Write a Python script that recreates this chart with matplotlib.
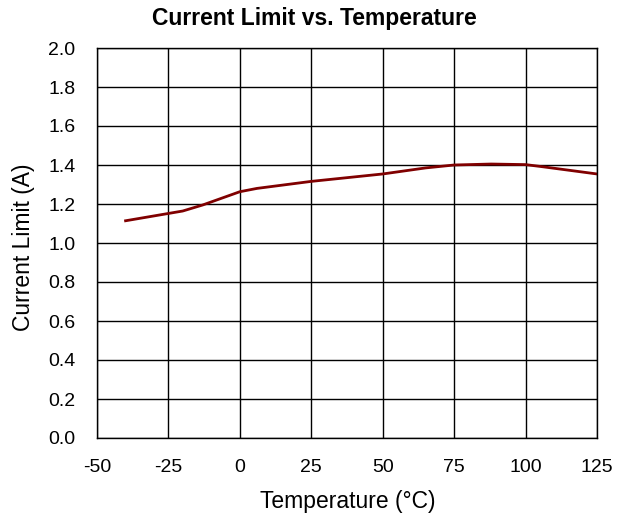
import matplotlib
matplotlib.use("Agg")
import matplotlib.pyplot as plt

temperature = [-40, -20, -13, 0, 6, 25, 50, 65, 75, 88, 100, 106, 125]
current = [1.114, 1.164, 1.195, 1.263, 1.280, 1.316, 1.354, 1.385, 1.400, 1.405, 1.402, 1.391, 1.354]
x_ticks = [-50, -25, 0, 25, 50, 75, 100, 125]
y_ticks = [0.0, 0.2, 0.4, 0.6, 0.8, 1.0, 1.2, 1.4, 1.6, 1.8, 2.0]

plt.rcParams['font.family'] = ['Liberation Sans', 'DejaVu Sans']
plt.rcParams['axes.unicode_minus'] = False

fig = plt.figure(figsize=(6.28, 5.19), dpi=100)
ax = fig.add_axes([97/628, 81/519, 500/628, 390/519])
ax.plot(temperature, current, color='#800000', linewidth=2)
ax.set_xlim(-50, 125)
ax.set_ylim(0, 2.0)
ax.set_xticks(x_ticks)
ax.set_xticklabels([str(v) for v in x_ticks])
ax.set_yticks(y_ticks)
ax.set_yticklabels([f"{v:.1f}" for v in y_ticks])
ax.grid(True, color='black', linewidth=1)
ax.set_axisbelow(True)
for s in ax.spines.values():
    s.set_color('black')
    s.set_linewidth(1)
ax.tick_params(length=0, labelsize=14)
ax.tick_params(axis='x', pad=15)
ax.tick_params(axis='y', pad=15.5)
ax.set_xlabel("Temperature (°C)", fontsize=16.5, va='center')
ax.xaxis.set_label_coords(0.502, -0.162)
ax.set_ylabel("Current Limit (A)", fontsize=16.5, va='center')
ax.yaxis.set_label_coords(-0.146, 0.49)
fig.text(0.5, 1 - 18/519, "Current Limit vs. Temperature", fontsize=16.5,
         fontweight='bold', ha='center', va='center')
fig.savefig("out.png", dpi=100)
